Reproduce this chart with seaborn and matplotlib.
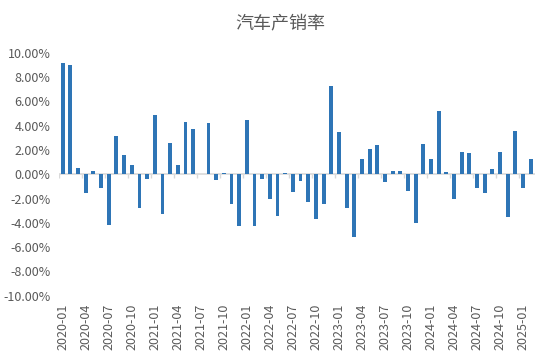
import pandas as pd
import numpy as np
import matplotlib
matplotlib.use("Agg")
import matplotlib.pyplot as plt
from matplotlib.ticker import FuncFormatter
import seaborn as sns

months = pd.date_range("2020-01", periods=62, freq="MS").strftime("%Y-%m").tolist()
ratio_pct = [9.13, 8.99, 0.53, -1.52, 0.25, -1.11, -4.15, 3.15, 1.58, 0.80, -2.77, -0.36,
             4.84, -3.24, 2.57, 0.77, 4.32, 3.73, 0.00, 4.26, -0.50, 0.08, -2.49, -4.23,
             4.48, -4.23, -0.36, -2.07, -3.40, 0.11, -1.44, -0.53, -2.30, -3.68, -2.49, 7.30,
             3.46, -2.82, -5.20, 1.22, 2.07, 2.41, -0.61, 0.28, 0.28, -1.36, -4.01, 2.49,
             1.22, 5.17, 0.22, -2.02, 1.85, 1.74, -1.11, -1.58, 0.41, 1.85, -3.54, 3.57,
             -1.11, 1.24]
title = "汽车产销率"

df = pd.DataFrame({"month": months, "ratio": ratio_pct})

sns.set_style("white")
plt.rcParams['font.family'] = ['Noto Sans CJK SC', 'DejaVu Sans']

fig = plt.figure(figsize=(5.5, 3.52), dpi=100)
ax = fig.add_axes([0.107, 0.16, 0.865, 0.69])
sns.barplot(data=df, x="month", y="ratio", color="#2E75B6", saturation=1,
            width=0.5, linewidth=0, ax=ax)

ax.set_ylim(-10, 10)
ax.set_xlim(-0.5, len(months) - 0.5)
ax.set_yticks(np.arange(-10, 10.1, 2))
ax.yaxis.set_major_formatter(FuncFormatter(lambda v, p: f"{v:.2f}%"))
ax.set_xticks(range(0, len(months), 3))
ax.set_xticklabels(months[::3], rotation=90)
ax.tick_params(axis="both", length=0, labelsize=9, labelcolor="#595959")
ax.tick_params(axis="x", pad=6)
ax.tick_params(axis="y", pad=6)
for s in ax.spines.values():
    s.set_visible(False)
ax.set_xlabel("")
ax.set_ylabel("")

ax.axhline(0, color="#D9D9D9", lw=1.2, zorder=0)
bounds = np.arange(-0.5, len(months), 3)
ax.vlines(bounds, -0.33, 0, color="#D9D9D9", lw=1, zorder=0)

fig.suptitle(title, x=0.51, y=0.96, fontsize=13, color="#595959")
fig.savefig("out.png", dpi=100)
